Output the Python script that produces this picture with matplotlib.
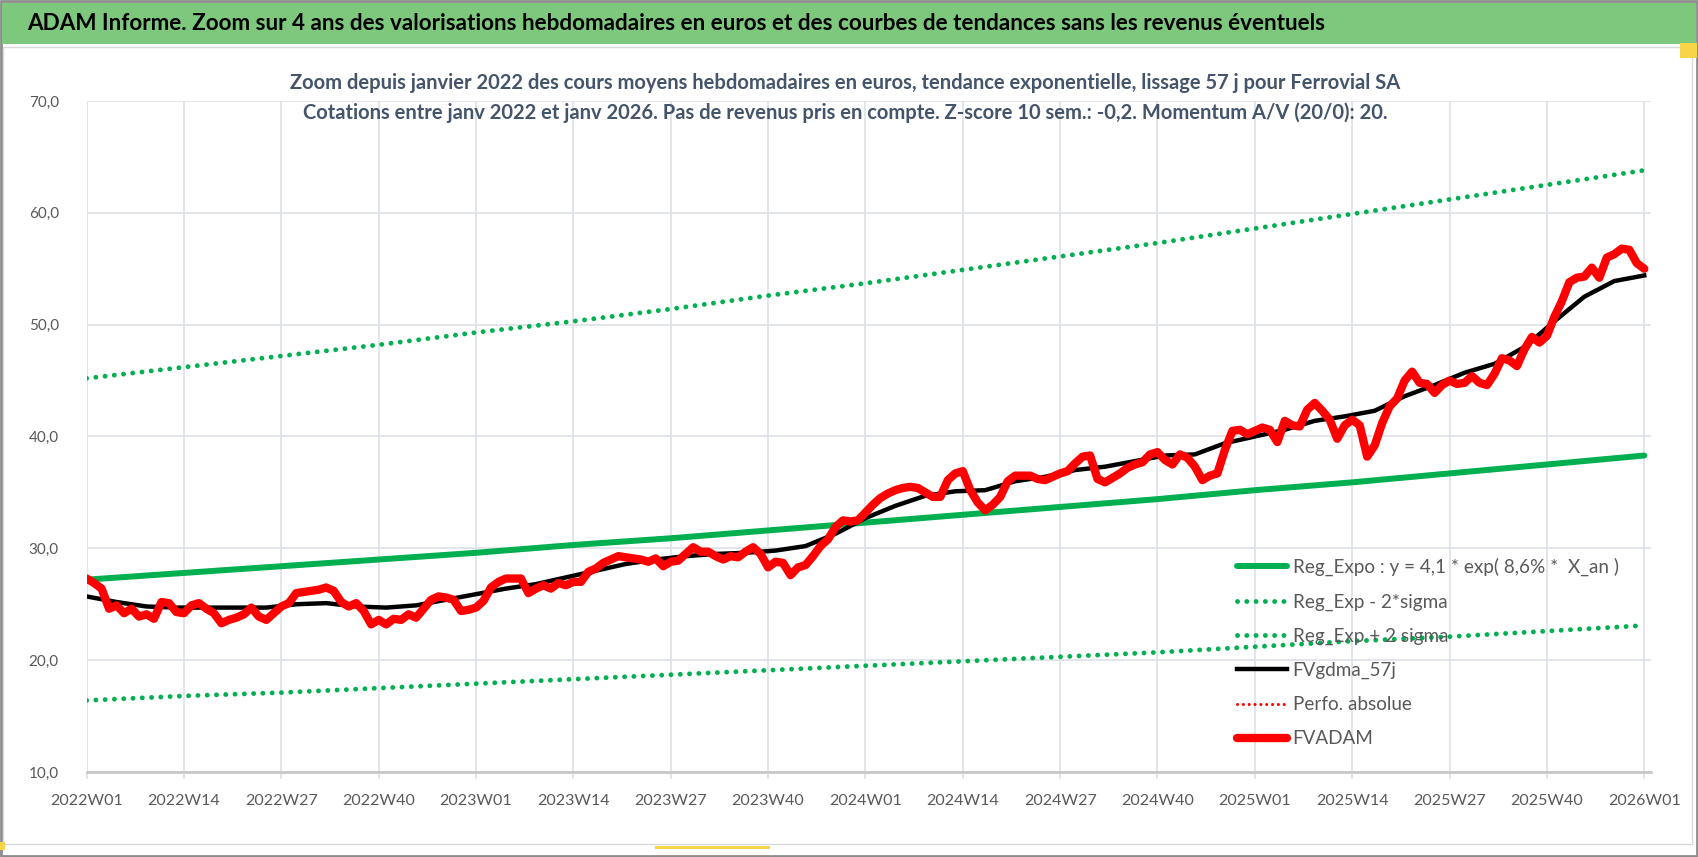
import matplotlib.pyplot as plt
from matplotlib.patches import Rectangle

plt.rcParams['font.family'] = ['Lato', 'DejaVu Sans']

# --- donnees ---
# cours moyens hebdomadaires (FVADAM), une valeur par semaine
red_2022 = [27.3, 26.9, 26.4, 24.6, 24.9, 24.2, 24.6, 23.9, 24.1, 23.7,
            25.2, 25.1, 24.3, 24.2, 24.9, 25.1, 24.6, 24.2, 23.3, 23.6,
            23.8, 24.1, 24.7, 23.9, 23.6, 24.2, 24.8, 25.1, 26.0, 26.1,
            26.2, 26.3, 26.5, 26.2, 25.2, 24.8, 25.1, 24.4, 23.2, 23.6,
            23.2, 23.7, 23.6, 24.1, 23.8, 24.6, 25.4, 25.7, 25.6, 25.4,
            24.4, 24.5]
red_2023 = [24.7, 25.3, 26.5, 27.0, 27.3, 27.3, 27.3, 26.0, 26.4, 26.7,
            26.4, 26.9, 26.7, 27.0, 27.0, 27.9, 28.2, 28.7, 29.0, 29.3,
            29.2, 29.1, 29.0, 28.8, 29.1, 28.4, 28.8, 28.9, 29.5, 30.1,
            29.7, 29.7, 29.3, 29.0, 29.3, 29.2, 29.7, 30.1, 29.5, 28.3,
            28.8, 28.7, 27.6, 28.3, 28.5, 29.3, 30.2, 30.8, 31.9, 32.5,
            32.4, 32.5]
red_2024 = [33.2, 33.9, 34.5, 34.9, 35.2, 35.4, 35.5, 35.4, 35.0, 34.6,
            34.6, 36.1, 36.7, 36.9, 35.2, 34.1, 33.4, 33.9, 34.6, 36.0,
            36.5, 36.5, 36.5, 36.2, 36.1, 36.4, 36.7, 36.9, 37.6, 38.2,
            38.3, 36.2, 35.9, 36.3, 36.7, 37.2, 37.5, 37.7, 38.4, 38.6,
            37.9, 37.5, 38.4, 38.1, 37.3, 36.1, 36.5, 36.7, 38.8, 40.5,
            40.6, 40.2]
red_2025 = [40.5, 40.8, 40.6, 39.5, 41.4, 41.0, 40.9, 42.4, 43.0, 42.3,
            41.5, 39.8, 41.0, 41.5, 41.0, 38.2, 39.2, 41.2, 42.7, 43.4,
            45.0, 45.8, 44.8, 44.7, 43.9, 44.6, 45.0, 44.7, 44.8, 45.4,
            44.8, 44.6, 45.6, 47.0, 46.8, 46.3, 47.8, 48.9, 48.4, 49.0,
            50.7, 52.1, 53.8, 54.2, 54.3, 55.1, 54.2, 56.0, 56.3, 56.8,
            56.7, 55.5]
red_2026 = [55.0]

# moyenne mobile 57 j (FVgdma_57j), relevee toutes les 4 semaines
black_weeks = list(range(0, 209, 4))
black_vals = [25.7, 25.2, 24.8, 24.7, 24.7, 24.7, 24.7, 25.0, 25.1, 24.8,
              24.7, 24.9, 25.4, 25.9, 26.4, 26.8, 27.4, 28.0, 28.6, 29.0,
              29.3, 29.5, 29.6, 29.8, 30.2, 31.3, 32.7, 33.8, 34.7, 35.1,
              35.2, 36.0, 36.4, 37.0, 37.3, 37.8, 38.3, 38.4, 39.4, 40.0,
              40.6, 41.4, 41.8, 42.3, 43.6, 44.6, 45.7, 46.5, 48.0, 50.3,
              52.5, 53.9, 54.4]

# graduations de l'axe x (toutes les 13 semaines)
years = [2022, 2023, 2024, 2025]
week_tags = ['W01', 'W14', 'W27', 'W40']
tick_weeks = list(range(0, 209, 13))
tick_labels = [f'{y}{w}' for y in years for w in week_tags] + ['2026W01']

# courbes de tendance relevees a chaque graduation
reg_expo = [27.2, 27.8, 28.4, 29.0, 29.6, 30.3, 30.9, 31.6, 32.3, 33.0,
            33.7, 34.4, 35.2, 35.9, 36.7, 37.5, 38.3]
reg_minus = [16.4, 16.8, 17.1, 17.5, 17.9, 18.3, 18.7, 19.1, 19.5, 19.9,
             20.3, 20.7, 21.2, 21.7, 22.1, 22.6, 23.1]
reg_plus = [45.2, 46.2, 47.2, 48.2, 49.3, 50.3, 51.4, 52.6, 53.7, 54.9,
            56.1, 57.3, 58.6, 59.9, 61.2, 62.5, 63.8]

y_ticks = [10, 20, 30, 40, 50, 60, 70]

titre = ("ADAM Informe. Zoom sur 4 ans des valorisations hebdomadaires en euros "
         "et des courbes de tendances sans les revenus éventuels")
sous_titre1 = ("Zoom depuis janvier 2022 des cours moyens hebdomadaires en euros, "
               "tendance exponentielle, lissage 57 j pour Ferrovial SA")
sous_titre2 = ("Cotations entre janv 2022 et janv 2026. Pas de revenus pris en compte. "
               "Z-score 10 sem.: -0,2. Momentum A/V (20/0): 20.")

# --- figure ---
W, H = 1698, 857
fig = plt.figure(figsize=(W / 100, H / 100), dpi=100)


def box(x0, y0, x1, y1):
    # coordonnees pixel (origine en haut a gauche) -> figure
    return (x0 / W, 1 - y1 / H), (x1 - x0) / W, (y1 - y0) / H


# cadre et bandeau vert
for (xy, w, h), fc, ec, lw in [
        (box(1, 1, 1697, 856), 'none', '#8C8C8C', 2),
        (box(2, 3, 1696, 44), '#7EC87E', 'none', 0),
        (box(3, 47, 1692, 844), 'none', '#D9D9D9', 1)]:
    fig.patches.append(Rectangle(xy, w, h, transform=fig.transFigure,
                                 facecolor=fc, edgecolor=ec, linewidth=lw))
# poignees de selection jaunes
for b in [box(1680, 43, 1697, 58), box(0, 842, 5, 850), box(655, 846, 770, 849)]:
    xy, w, h = b
    fig.patches.append(Rectangle(xy, w, h, transform=fig.transFigure,
                                 facecolor='#F7D547', edgecolor='none'))

fig.text(27 / W, 1 - 24 / H, titre, ha='left', va='center',
         fontsize=16.2, fontweight='bold', color='black')
fig.text(845 / W, 1 - 83 / H, sous_titre1, ha='center', va='center',
         fontsize=14.5, fontweight='bold', color='#44546A')
fig.text(845 / W, 1 - 113 / H, sous_titre2, ha='center', va='center',
         fontsize=14.5, fontweight='bold', color='#44546A')

xy, w, h = box(86.6, 101, 1651, 772)
ax = fig.add_axes([xy[0], xy[1], w, h])

weeks = list(range(209))
red = red_2022 + red_2023 + red_2024 + red_2025 + red_2026
green = '#00B050'

ax.plot(tick_weeks, reg_expo, color=green, lw=4.3, solid_capstyle='round',
        label='Reg_Expo : y = 4,1 * exp( 8,6% *  X_an )', zorder=3)
ax.plot(tick_weeks, reg_minus, color=green, lw=3.5, linestyle=(0, (0.01, 1.9)),
        dash_capstyle='round', label='Reg_Exp - 2*sigma', zorder=3)
ax.plot(tick_weeks, reg_plus, color=green, lw=3.5, linestyle=(0, (0.01, 1.9)),
        dash_capstyle='round', label='Reg_Exp + 2 sigma', zorder=3)
ax.plot(black_weeks, black_vals, color='black', lw=3.2, solid_joinstyle='round',
        label='FVgdma_57j', zorder=4)
ax.plot([], [], color='red', lw=2.2, linestyle=(0, (0.01, 1.9)),
        dash_capstyle='round', label='Perfo. absolue')
ax.plot(weeks, red, color='#FF0000', lw=6, solid_joinstyle='round',
        solid_capstyle='round', label='FVADAM', zorder=5)

ax.set_xlim(0, 208.9)
ax.set_ylim(10, 70)
ax.set_xticks(tick_weeks)
ax.set_xticklabels(tick_labels)
ax.set_yticks(y_ticks)
ax.set_yticklabels([f'{v},0' for v in y_ticks])

ax.grid(True, color='#DDE1E8', lw=1.2)
ax.set_axisbelow(True)
for s in ['top', 'right', 'left']:
    ax.spines[s].set_visible(False)
ax.spines['bottom'].set_color('#C8C8C8')
ax.spines['bottom'].set_linewidth(2)
ax.tick_params(axis='x', length=5, color='#DDE1E8', width=1.2, pad=11,
               labelsize=11.5, labelcolor='#595959')
ax.tick_params(axis='y', length=0, pad=20, labelsize=11, labelcolor='#595959')

leg = ax.legend(loc='upper left', bbox_to_anchor=(1237 / W, 1 - 558 / H),
                bbox_transform=fig.transFigure, frameon=False, fontsize=13.6,
                handlelength=2.65, handletextpad=0.3, labelspacing=0.9,
                borderpad=0, borderaxespad=0)
for t in leg.get_texts():
    t.set_color('#595959')

fig.savefig('out.png', dpi=100)
